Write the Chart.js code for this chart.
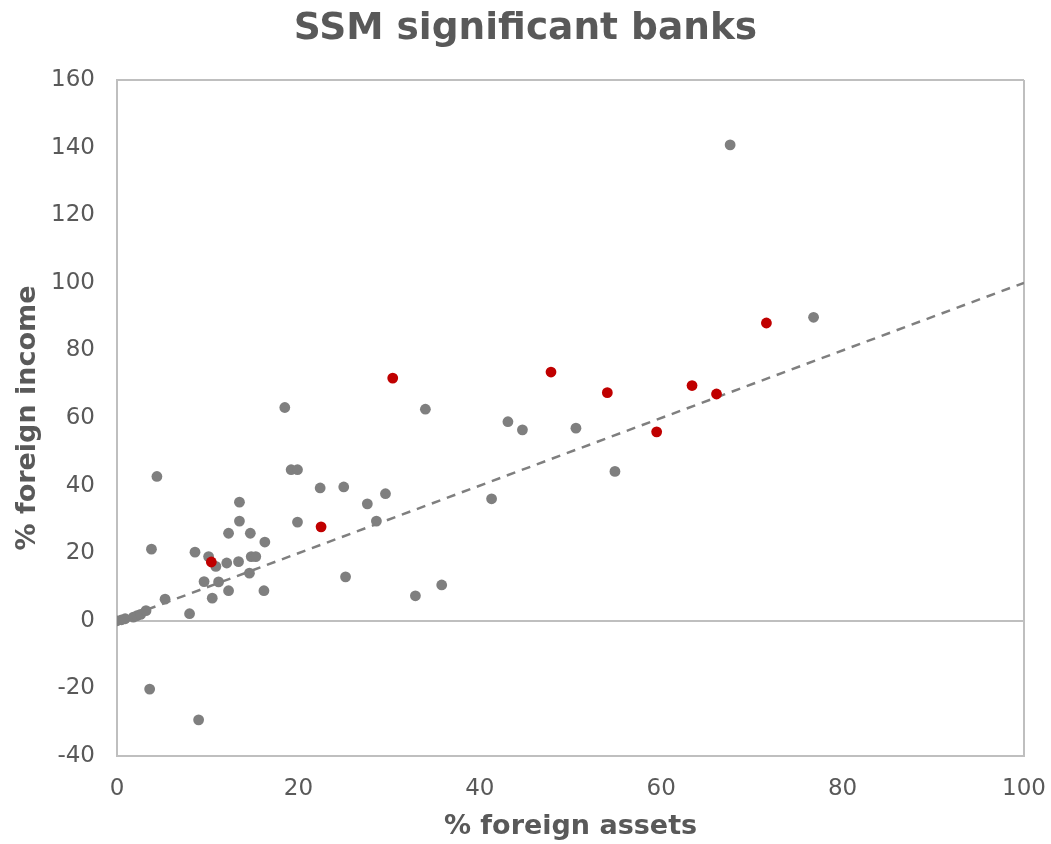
<!DOCTYPE html>
<html>
<head>
<meta charset="utf-8">
<script src="https://cdn.jsdelivr.net/npm/chart.js@4"></script>
<style>
html,body{margin:0;padding:0;background:#fff;}
#wrap{width:1051px;height:844px;position:relative;}
</style>
</head>
<body>
<div id="wrap"><canvas id="c"></canvas></div>
<script>
// Gray series (other SSM significant banks)
const grayX = [0,0.5,0.9,1.8,2.2,2.6,3.2,4.4,19.2,19.9,13.5,13.5,19.9,12.3,14.7,16.3,3.8,8.6,10.1,10.9,12.1,13.4,14.8,15.3,14.6,9.6,11.2,12.3,16.2,10.5,5.3,8.0,3.6,9.0,18.5,34.0,22.4,25.0,27.6,29.6,28.6,25.2,32.9,35.8,67.6,76.8,43.1,44.7,50.6,54.9,41.3];
const grayY = [0,0.3,0.6,1.1,1.5,1.9,3.0,42.7,44.7,44.7,35.1,29.5,29.2,25.9,25.9,23.3,21.2,20.3,19.0,16.1,17.1,17.5,19.0,19.0,14.1,11.6,11.5,8.9,8.9,6.7,6.4,2.1,-20.2,-29.3,63.1,62.6,39.3,39.6,34.6,37.6,29.5,13.0,7.4,10.6,140.8,89.8,58.9,56.5,57.0,44.2,36.1];
// Red series (highlighted banks)
const redX = [10.4,22.5,30.4,47.85,54.06,63.4,66.1,59.5,71.6];
const redY = [17.4,27.8,71.8,73.6,67.5,69.6,67.1,55.9,88.1];
// 45-degree reference line
const lineX = [0,100];
const lineY = [0,100];
// Axis ticks
const xTicks = [0,20,40,60,80,100];
const yTicks = [-40,-20,0,20,40,60,80,100,120,140,160];

const toPts = (xs, ys) => xs.map((x,i)=>({x:x, y:ys[i]}));
const txt = '#595959';
const border = '#bfbfbf';

new Chart(document.getElementById('c'), {
  type: 'scatter',
  data: {
    datasets: [
      { label:'line', type:'line', data: toPts(lineX,lineY), borderColor:'#7f7f7f', borderWidth:2.5, borderDash:[9,7], pointRadius:0, fill:false, order:3 },
      { label:'gray', data: toPts(grayX,grayY), backgroundColor:'#7f7f7f', borderColor:'#7f7f7f', pointRadius:5.4, borderWidth:0, order:2 },
      { label:'red', data: toPts(redX,redY), backgroundColor:'#c00000', borderColor:'#c00000', pointRadius:5.4, borderWidth:0, order:1 }
    ]
  },
  options: {
    responsive:true, maintainAspectRatio:false, animation:false,
    layout:{ padding:{ left:0, right:0, top:0, bottom:0 } },
    plugins:{
      legend:{ display:false },
      tooltip:{ enabled:false },
      title:{ display:true, text:'SSM significant banks', color:txt,
        font:{ family:'DejaVu Sans', size:37.5, weight:'bold' },
        padding:{ top:6.5, bottom:28.5 } }
    },
    scales:{
      x:{
        type:'linear', min:0, max:100,
        afterBuildTicks: s => { s.ticks = xTicks.map(v=>({value:v})); },
        afterFit: s => { s.height = 88; s.paddingRight = 27; s.paddingLeft = 0; },
        ticks:{ color:txt, font:{ family:'DejaVu Sans', size:23 }, padding:19 },
        grid:{ drawTicks:false, lineWidth:2, color: c => (c.tick && (c.tick.value===0 || c.tick.value===100)) ? border : 'rgba(0,0,0,0)' },
        border:{ display:true, color:border, width:2 },
        title:{ display:true, text:'% foreign assets', color:txt, font:{ family:'DejaVu Sans', size:27, weight:'bold' }, padding:{ top:1, bottom:1 } }
      },
      y:{
        type:'linear', min:-40, max:160,
        afterBuildTicks: s => { s.ticks = yTicks.map(v=>({value:v})); },
        afterFit: s => { s.width = 117; },
        ticks:{ color:txt, font:{ family:'DejaVu Sans', size:23 }, padding:22 },
        grid:{ drawTicks:false, lineWidth:2, color: c => (c.tick && (c.tick.value===0 || c.tick.value===160 || c.tick.value===-40)) ? border : 'rgba(0,0,0,0)' },
        border:{ display:true, color:border, width:2 },
        title:{ display:true, text:'% foreign income', color:txt, font:{ family:'DejaVu Sans', size:27, weight:'bold' }, padding:{ top:12, bottom:0 } }
      }
    }
  }
});
</script>
</body>
</html>
